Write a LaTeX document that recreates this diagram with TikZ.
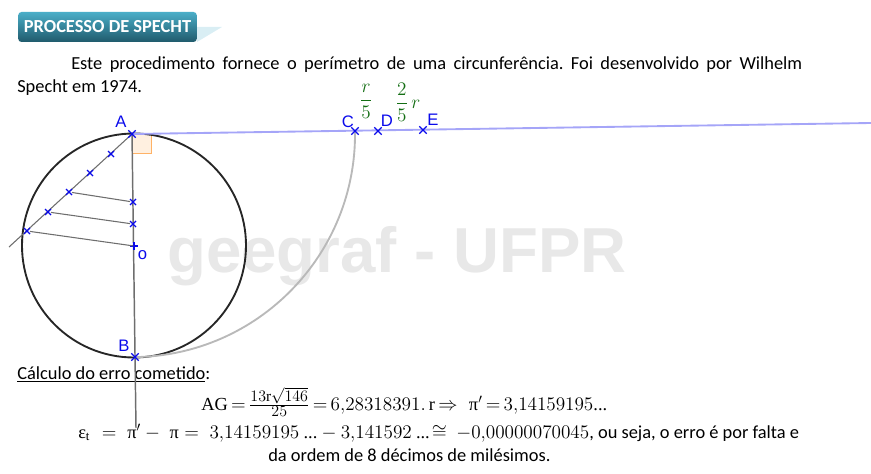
\documentclass[tikz,border=0pt]{standalone}
\usepackage{amsmath}
\usepackage{fontspec}
\setmainfont{Carlito}
\setmathrm{Liberation Serif}
\newfontfamily\serifgreek{Liberation Serif}
\newfontfamily\geosans{Liberation Sans}
\usetikzlibrary{shapes.misc}
\definecolor{markblue}{RGB}{10,10,235}
\definecolor{tangentblue}{RGB}{165,165,248}
\definecolor{arcgrey}{RGB}{185,185,185}
\definecolor{linegrey}{RGB}{110,110,110}
\definecolor{fracgreen}{RGB}{20,110,20}
\definecolor{titletop}{RGB}{74,174,200}
\definecolor{titlebottom}{RGB}{32,90,108}
\definecolor{titletail}{RGB}{217,238,244}
\tikzset{
    mark cross/.style={cross out,draw=markblue,line width=1pt,minimum size=5.5pt,inner sep=0pt,outer sep=0pt},
    small cross/.style={mark cross,line width=0.8pt,minimum size=4.5pt},
    geo label/.style={text=markblue,font=\geosans\fontsize{12.5}{12.5}\selectfont,inner sep=0pt},
    body text/.style={font=\fontsize{13.8}{17}\selectfont,inner sep=0pt,anchor=base west},
    frac label/.style={text=fracgreen,inner sep=0pt,font=\fontsize{14.5}{17}\selectfont}
}
\begin{document}
\begin{tikzpicture}[x=0.75pt,y=-0.75pt]
    \useasboundingbox (0,0) rectangle (871,474);

    % watermark
    \node[text=black!9,font=\geosans\bfseries\fontsize{47.7}{48}\selectfont] (mark) at (397,256) {geegraf - UFPR};

    % title
    \fill[titletail] (197,27) -- (222,27) -- (197,42) -- cycle;
    \node[rounded corners=2.5pt,top color=titletop,bottom color=titlebottom,
        minimum width=134pt,minimum height=22.5pt,inner sep=0pt,text=white,
        font=\bfseries\fontsize{13.8}{15}\selectfont] (title) at (107.5,27) {PROCESSO DE SPECHT};

    % text
    \node[body text,text width=588.7pt,align=justify] (intro) at (17,70)
        {\frenchspacing\hspace*{40.5pt}Este procedimento fornece o perímetro de uma circunferência. Foi desenvolvido por Wilhelm Specht em 1974.};
    \node[body text] (erro) at (17,379) {\underline{Cálculo do erro cometido}:};
    \node[inner sep=0pt,anchor=base west,font=\fontsize{13.8}{17}\selectfont] (ag) at (201,410)
        {\thickmuskip=3mu $\mathrm{AG}=\frac{\mbox{\fontsize{11.5}{12}\selectfont$13\mathrm{r}\sqrt{146}$}}{\mbox{\fontsize{11.5}{12}\selectfont$25$}}=6{,}28318391.\,\mathrm{r}\Rightarrow\ \ \mbox{\serifgreek π}'=3{,}14159195\mbox{\serifgreek ...}$};
    \node[inner sep=0pt,anchor=base west,font=\fontsize{13.8}{17}\selectfont] (eps) at (78,438)
        {$\mbox{\serifgreek ε}_{\mathrm{t}}\,\,=\;\mbox{\serifgreek π}'-\;\mbox{\serifgreek π}=\;3{,}14159195\ \mbox{\serifgreek ...}-3{,}141592\ \mbox{\serifgreek ...}\!\cong\ -0{,}00000070045$, ou seja, o erro é por falta e};
    \node[body text] (ordem) at (268,461) {da ordem de 8 décimos de milésimos.};

    % points
    \coordinate (A) at (132,134);
    \coordinate (B) at (135,357);
    \coordinate (C) at (355,131);
    \coordinate (tailA) at (9,247);
    \coordinate (tailB) at (136,428);
    \coordinate (tailR) at (871,123);

    % right angle
    \draw[orange!60,fill=orange!12,line width=0.6pt] (132,134) rectangle (151,153);

    % circle and arc
    \draw[black!85,line width=1.4pt] (134,245.5) circle (112);
    \draw[arcgrey,line width=1.4pt] (C) arc[start angle=-0.8,end angle=89.2,radius=223];

    % lines
    \draw[tangentblue,line width=1.4pt] (A) -- (tailR);
    \draw[linegrey,line width=0.8pt] (A) -- (tailA);
    \draw[linegrey,line width=1.1pt] (A) -- (tailB);

    \foreach \name/\px/\py in {p1/111/154,p2/90/173,p3/69/192,p4/48/212,p5/27/231} {
        \node[small cross] (\name) at (\px,\py) {};
    }
    \foreach \name/\px/\py in {q3/133/202,q4/133/224} {
        \node[small cross] (\name) at (\px,\py) {};
    }
    \node[inner sep=0pt] (O) at (134,246) {};
    \draw[markblue,line width=1pt] (130,246) -- (138,246) (134,242) -- (134,250);

    \draw[linegrey,line width=0.8pt] (p3) -- (q3);
    \draw[linegrey,line width=0.8pt] (p4) -- (q4);
    \draw[linegrey,line width=0.8pt] (p5) -- (O);

    \foreach \name/\px/\py in {markA/132/134,markB/135/357,markC/355/131,D/378/131,E/423/130} {
        \node[mark cross] (\name) at (\px,\py) {};
    }

    % labels
    \node[geo label] (labelA) at (121,122) {A};
    \node[geo label] (labelB) at (124,346) {B};
    \node[geo label] (labelC) at (348,122) {C};
    \node[geo label] (labelD) at (387,121) {D};
    \node[geo label] (labelE) at (433,120) {E};
    \node[geo label] (labelO) at (142.5,255) {o};
    \node[frac label] (fracC) at (366,101) {$\displaystyle\frac{r}{5}$};
    \node[frac label] (fracE) at (408,102) {$\displaystyle\frac{2}{5}\,r$};
\end{tikzpicture}
\end{document}
